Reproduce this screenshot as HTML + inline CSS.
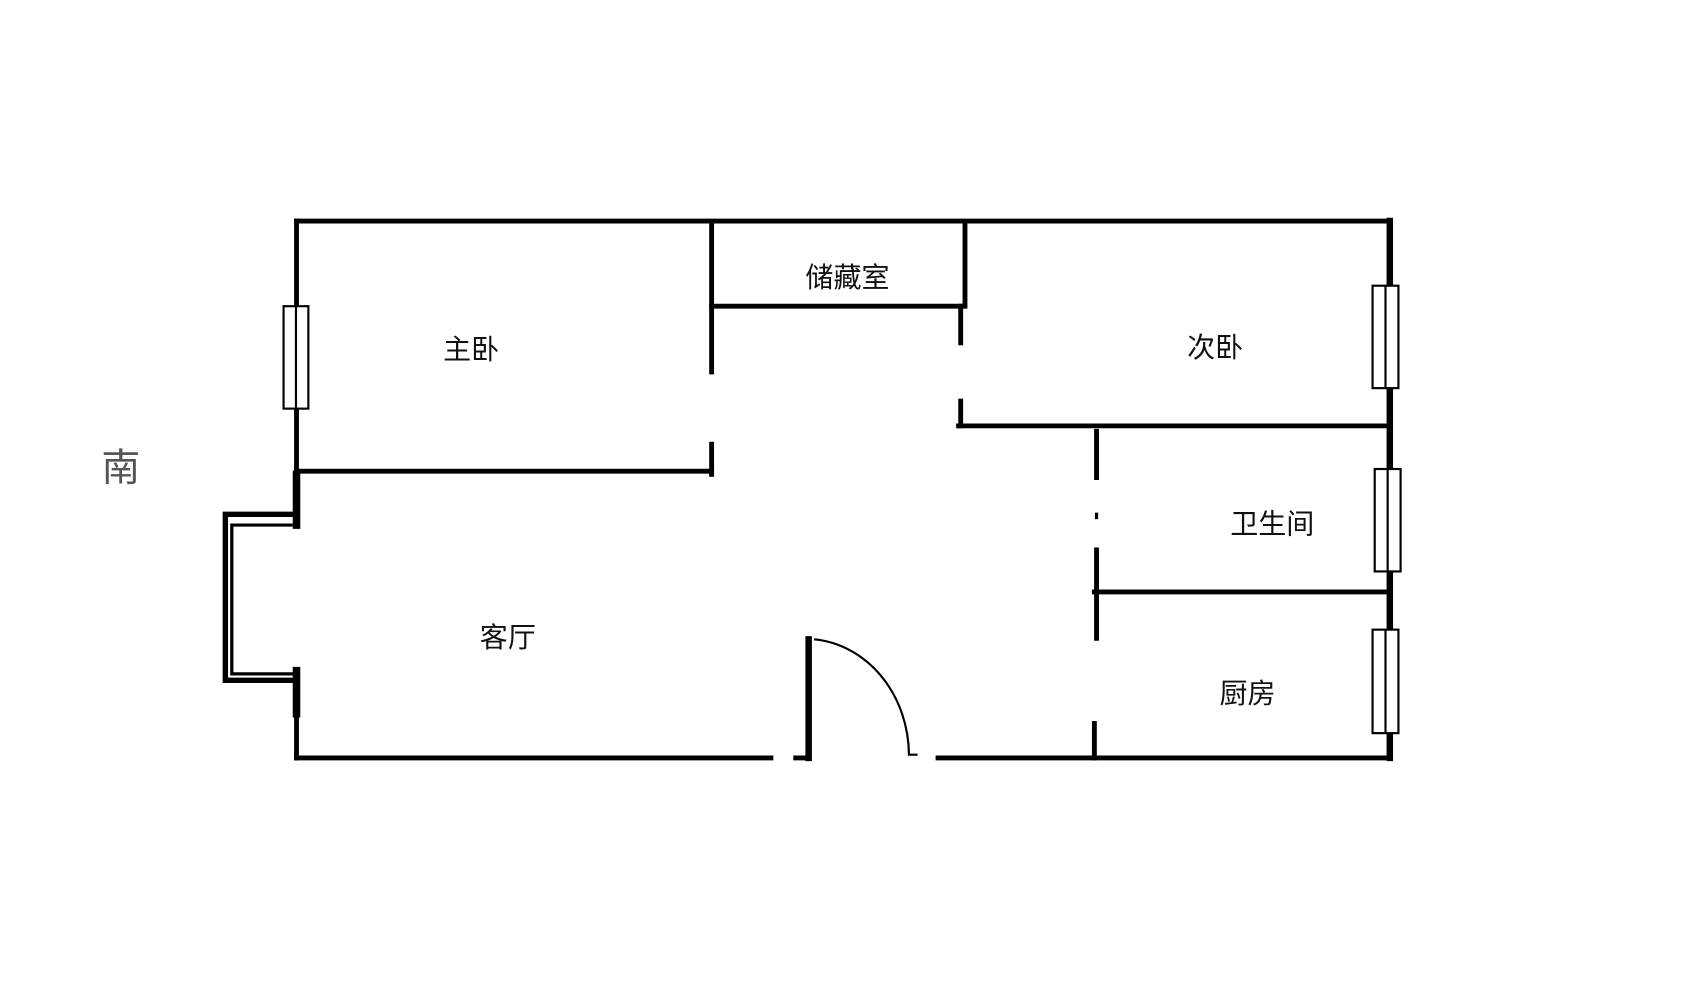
<!DOCTYPE html>
<html><head><meta charset="utf-8"><style>
html,body{margin:0;padding:0;background:#fff;}
svg{display:block}
text{font-family:"Liberation Sans","Noto Sans CJK SC",sans-serif;fill:#111;}
</style></head><body>
<svg width="1682" height="1000" viewBox="0 0 1560 927.5" preserveAspectRatio="none" xmlns="http://www.w3.org/2000/svg">
<rect width="1560" height="927.5" fill="#fff"/>
<g stroke="#000" stroke-width="4.5" fill="none" stroke-linecap="square">
<line x1="275" y1="205" x2="1289" y2="205"/>
<line x1="275" y1="205" x2="275" y2="440"/>
<line x1="275" y1="440" x2="275" y2="487" stroke-width="7"/>
<line x1="275" y1="622" x2="275" y2="662" stroke-width="7"/>
<line x1="275" y1="662" x2="275" y2="703"/>
<polyline points="275,477 209,477 209,631 275,631" stroke-width="5"/>
<polyline points="270,487 215,487 215,625 272,625" stroke-width="3"/>
<line x1="275" y1="703" x2="715" y2="703"/>
<line x1="738" y1="703" x2="750" y2="703"/>
<line x1="870" y1="703" x2="1289" y2="703"/>
<line x1="750" y1="593" x2="750" y2="703" stroke-width="6"/>
<line x1="1289" y1="205" x2="1289" y2="703" stroke-width="6"/>
<line x1="275" y1="437" x2="660" y2="437"/>
<line x1="660" y1="207" x2="660" y2="345"/>
<line x1="660" y1="412" x2="660" y2="440"/>
<line x1="660" y1="284" x2="893" y2="284"/>
<line x1="895" y1="207" x2="895" y2="284"/>
<line x1="891" y1="284" x2="891" y2="318"/>
<line x1="891" y1="372" x2="891" y2="395"/>
<line x1="889" y1="395" x2="1289" y2="395"/>
<line x1="1017" y1="400" x2="1017" y2="443"/>
<line x1="1017" y1="477" x2="1017" y2="480" stroke-width="3"/>
<line x1="1017" y1="510" x2="1017" y2="592"/>
<line x1="1015" y1="549" x2="1289" y2="549"/>
<line x1="1015" y1="671" x2="1015" y2="703"/>
</g>
<path d="M755 593 A 96 108 0 0 1 843 700 L851 700" stroke="#000" stroke-width="2" fill="none"/>
<g fill="#fff" stroke="#000" stroke-width="2">
<rect x="263" y="284" width="23" height="95"/>
<line x1="274.5" y1="284" x2="274.5" y2="379"/>
<rect x="1273" y="265" width="24" height="95"/>
<line x1="1285" y1="265" x2="1285" y2="360"/>
<rect x="1275" y="435" width="24" height="95"/>
<line x1="1287" y1="435" x2="1287" y2="530"/>
<rect x="1273" y="584" width="24" height="96"/>
<line x1="1285" y1="584" x2="1285" y2="680"/>
</g>
<g font-size="26" text-anchor="middle">
<text x="786" y="266">储藏室</text>
<text x="437" y="333">主卧</text>
<text x="1127" y="331">次卧</text>
<text x="1180" y="495">卫生间</text>
<text x="471" y="600">客厅</text>
<text x="1157" y="652">厨房</text>
</g>
<text x="112" y="446" font-size="36" text-anchor="middle" style="fill:#555">南</text>
</svg>
</body></html>
